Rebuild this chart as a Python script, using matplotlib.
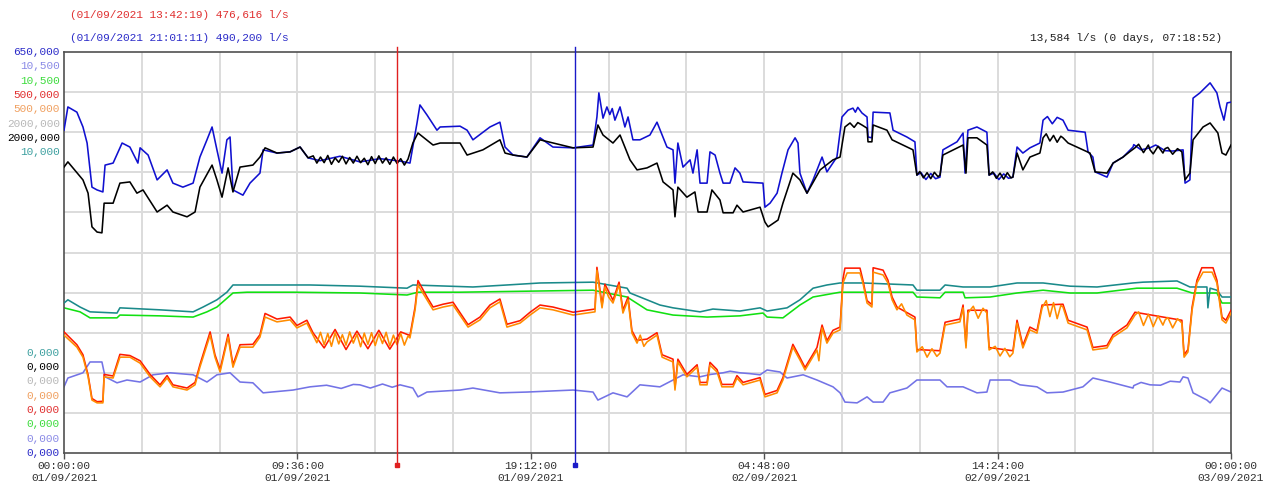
import matplotlib
matplotlib.use("Agg")
import matplotlib.pyplot as plt

# ---- data: time in hours from 01/09/2021 00:00, values in % of each channel's scale ----
blue_t = [0.0, 0.16, 0.53, 0.78, 0.95, 1.15, 1.36, 1.60, 1.69, 2.02, 2.39, 2.71, 3.04, 3.13, 3.46, 3.83,
          4.24, 4.48, 4.89, 5.31, 5.59, 5.88, 6.09, 6.29, 6.50, 6.70, 6.83, 6.95, 7.36, 7.65, 8.06, 8.19,
          8.76, 9.30, 9.71, 10.04, 10.53, 11.35, 12.17, 13.00, 13.82, 14.23, 14.52, 14.64, 14.93, 15.34,
          15.47, 16.29, 16.58, 16.82, 17.52, 17.93, 18.14, 18.47, 19.04, 19.58, 20.11, 20.94, 21.76, 21.92,
          22.00, 22.17, 22.33, 22.66, 22.87, 23.07, 23.20, 23.40, 23.69, 24.10, 24.39, 24.80, 25.05, 25.13,
          25.25, 25.46, 25.75, 25.87, 26.04, 26.16, 26.45, 26.57, 26.78, 26.98, 27.11, 27.39, 27.60, 27.80,
          27.93, 28.75, 28.83, 29.04, 29.33, 29.53, 29.78, 30.07, 30.19, 30.27, 30.56, 30.81, 31.18, 31.38,
          31.79, 32.00, 32.25, 32.45, 32.82, 33.03, 33.07, 33.23, 33.28, 33.97, 34.10, 34.67, 35.00, 35.08,
          36.03, 36.15, 36.73, 36.98, 37.06, 37.18, 37.55, 37.96, 38.05, 39.03, 39.20, 39.44, 39.73, 40.14,
          40.27, 41.09, 41.30, 42.00, 42.12, 42.32, 42.41, 42.90, 43.15, 43.56, 43.97, 44.67, 45.29, 46.03,
          46.11, 46.31, 46.40, 46.44, 46.72, 47.14, 47.42, 47.55, 47.71, 47.84, 48.0]
blue_v = [80.5, 86.3, 85.0, 81.3, 77.3, 66.3, 65.6, 65.1, 71.8, 72.3, 77.3, 76.3, 72.3, 76.1, 74.3, 68.1,
          70.6, 67.3, 66.3, 67.3, 73.8, 78.1, 81.3, 75.6, 69.8, 78.1, 78.8, 65.6, 64.3, 67.3, 69.8, 75.6,
          74.8, 75.1, 76.3, 73.6, 72.9, 74.0, 72.6, 73.4, 72.8, 72.3, 82.3, 86.8, 84.3, 80.5,
          81.3, 81.5, 80.5, 78.1, 81.3, 82.5, 76.3, 74.3, 73.8, 78.6, 76.3, 76.1, 76.8, 83.8,
          89.8, 83.5, 86.3, 83.0, 86.3, 81.3, 83.8, 78.1, 78.1, 79.3, 82.5, 76.3, 75.6, 67.3,
          77.3, 71.3, 73.1, 69.8, 75.6, 67.3, 67.3, 75.1, 74.3, 69.8, 67.3, 67.3, 71.1, 69.8,
          67.6, 67.3, 61.3, 62.3, 64.8, 69.8, 75.6, 78.6, 77.3, 69.8, 64.8, 68.1, 73.8, 70.1,
          73.8, 83.8, 85.5, 86.0, 84.8, 83.8, 78.8, 78.6, 85.0, 84.8, 80.5, 78.8, 77.6, 69.3,
          68.8, 75.6, 77.6, 79.8, 69.8, 80.5, 81.3, 80.0, 69.3, 68.8, 76.3, 74.8, 76.1, 77.3,
          83.0, 83.0, 80.5, 80.0, 75.1, 73.8, 70.1, 68.8, 72.3, 73.8, 76.3, 76.1, 75.4, 75.6,
          67.3, 68.1, 83.0, 88.5, 89.8, 92.3, 89.8, 86.3, 83.0, 87.3, 87.5]
# extra readings in the noisy stretches of the blue trace
blue_extra_t = [22.45, 22.55, 32.55, 32.65, 35.25, 35.45, 35.65, 35.85, 38.25, 38.45, 38.65, 38.85,
                40.45, 40.65, 40.85, 44.00, 44.30, 44.90, 45.60]
blue_extra_v = [84.4, 85.9, 85.0, 86.2, 69.9, 68.2, 69.7, 68.4, 69.8, 68.2, 69.6, 68.5,
                83.9, 82.1, 83.7, 76.9, 75.6, 76.8, 75.3]

black_t = [0.0, 0.16, 0.78, 0.99, 1.15, 1.36, 1.56, 1.65, 2.02, 2.30, 2.71, 3.00, 3.25, 3.83, 4.24, 4.48,
           5.06, 5.39, 5.59, 6.09, 6.29, 6.50, 6.75, 6.95, 7.24, 7.77, 8.06, 8.27, 8.76, 9.30, 9.71, 10.04,
           10.25, 10.40, 10.55, 10.70, 10.85, 11.00, 11.15, 11.30, 11.45, 11.60, 11.75, 11.90, 12.05, 12.20,
           12.35, 12.50, 12.65, 12.80, 12.95, 13.10, 13.25, 13.40, 13.55, 13.70, 13.85, 14.00, 14.15,
           14.35, 14.56, 15.18, 15.47, 16.29, 16.58, 17.23, 17.93, 18.14, 18.47, 19.04, 19.58, 20.94,
           21.76, 21.96, 22.17, 22.58, 22.87, 23.28, 23.57, 23.98, 24.39, 24.64, 25.05, 25.13, 25.25,
           25.62, 25.95, 26.08, 26.45, 26.65, 26.98, 27.11, 27.52, 27.68, 27.93, 28.63, 28.83, 28.96,
           29.37, 29.57, 29.98, 30.27, 30.56, 31.10, 31.63, 31.92, 32.12, 32.33, 32.82, 33.03, 33.07,
           33.23, 33.28, 33.85, 34.06, 34.92, 35.08, 36.03, 36.15, 36.98, 37.10, 37.18, 37.55, 37.96,
           38.05, 39.03, 39.20, 39.44, 39.73, 40.14, 40.27, 41.09, 41.30, 42.20, 42.41, 42.90, 43.15,
           43.56, 44.05, 44.67, 45.29, 45.98, 46.11, 46.31, 46.44, 46.85, 47.14, 47.46, 47.63, 47.79, 48.0]
black_v = [71.3, 72.6, 68.1, 64.8, 56.4, 55.1, 54.9, 62.3, 62.3, 67.3, 67.6, 64.8, 65.6, 60.1, 61.8, 60.1,
           58.9, 60.1, 66.3, 71.8, 68.1, 63.8, 71.1, 65.1, 71.3, 71.8, 73.8, 76.1, 74.8, 75.1, 76.3, 73.6,
           74.1, 72.3, 73.8, 72.4, 74.2, 72.0, 73.6, 72.5, 74.0, 72.1, 73.7, 72.3, 74.0, 72.4,
           73.5, 71.9, 73.9, 72.2, 74.1, 72.3, 73.6, 72.0, 73.8, 72.2, 73.4, 71.8, 73.3,
           77.3, 79.8, 76.8, 77.3, 77.3, 74.3, 75.6, 78.1, 74.8, 74.3, 73.8, 78.1, 76.1,
           76.3, 81.8, 79.3, 77.3, 79.3, 73.1, 70.6, 71.1, 72.3, 67.6, 65.6, 58.9, 66.3,
           63.8, 65.1, 60.1, 60.1, 65.6, 63.1, 59.9, 59.9, 61.8, 60.1, 61.3, 57.6, 56.4,
           58.1, 62.3, 69.8, 68.1, 64.8, 70.6, 73.1, 73.8, 81.3, 82.3, 81.8, 81.0, 77.6,
           77.6, 81.8, 80.5, 78.1, 75.6, 69.3, 69.3, 74.3, 76.8, 69.8, 78.6, 78.6, 76.8,
           69.3, 68.8, 74.8, 70.6, 73.8, 74.8, 78.6, 78.6, 77.3, 74.8, 70.1, 69.8, 72.3,
           73.8, 76.1, 75.6, 75.9, 75.1, 68.1, 69.8, 78.1, 81.3, 82.3, 79.8, 74.8, 74.3, 76.8]
# extra readings in the noisy stretches of the black trace
black_extra_t = [35.20, 35.35, 35.50, 35.65, 35.80, 35.95, 38.20, 38.35, 38.50, 38.65, 38.80, 38.95,
                 40.40, 40.55, 40.70, 40.85, 41.00, 44.20, 44.40, 44.60, 44.80, 45.00, 45.20, 45.40,
                 45.60, 45.80, 32.50, 32.65, 43.85]
black_extra_v = [70.2, 68.6, 69.9, 68.4, 70.0, 68.9, 70.1, 68.5, 69.8, 68.3, 69.9, 68.6,
                 79.6, 77.8, 79.2, 77.5, 79.0, 77.0, 74.9, 76.8, 74.6, 76.5, 74.8, 76.2,
                 74.5, 75.9, 81.2, 82.4, 75.2]

teal_t = [0.0, 0.16, 0.66, 1.07, 2.18, 2.30, 3.95, 5.31, 5.72, 6.29, 6.70, 6.95, 8.06, 10.12, 12.17, 14.11,
          14.35, 16.82, 18.22, 19.58, 21.76, 23.16, 23.28, 23.98, 24.51, 25.05, 26.16, 26.69, 27.80, 28.63,
          28.92, 29.74, 30.27, 30.81, 31.38, 31.92, 32.86, 34.92, 35.08, 36.03, 36.24, 36.98, 38.09, 39.20,
          40.27, 41.38, 42.49, 43.97, 44.38, 45.78, 46.31, 47.01, 47.05, 47.14, 47.42, 47.63, 48.0]
teal_v = [37.4, 38.2, 36.4, 35.2, 34.9, 36.2, 35.7, 35.2, 36.4, 38.2, 40.1, 41.9, 41.9, 41.9, 41.6, 41.1,
          41.9, 41.4, 41.9, 42.4, 42.6, 41.1, 39.9, 38.2, 36.9, 36.2, 35.2, 35.9, 35.4, 36.2,
          35.4, 36.2, 38.2, 41.1, 41.9, 42.4, 42.4, 41.9, 40.6, 40.6, 41.9, 41.4, 41.4, 42.4,
          42.4, 41.6, 41.4, 42.4, 42.6, 42.9, 41.4, 41.4, 36.2, 41.1, 40.6, 38.9, 38.9]

green_t = [0.0, 0.66, 1.07, 2.18, 2.30, 3.95, 5.31, 5.88, 6.29, 6.95, 7.53, 9.42, 12.17, 14.11, 14.56,
           16.29, 21.76, 23.16, 23.98, 25.05, 26.45, 27.80, 28.75, 28.92, 29.57, 30.27, 30.81, 31.92,
           34.92, 35.08, 36.03, 36.24, 36.98, 37.06, 38.09, 39.20, 40.27, 41.38, 42.49, 44.13, 45.78,
           46.40, 47.42, 47.63, 48.0]
green_v = [36.2, 35.2, 33.7, 33.7, 34.4, 34.2, 33.9, 35.2, 36.4, 39.9, 40.1, 40.1, 39.9, 39.4, 40.1,
           40.1, 40.6, 38.9, 35.7, 34.4, 33.9, 34.2, 34.9, 33.9, 33.7, 36.9, 38.9, 40.1,
           40.1, 38.9, 38.7, 40.1, 40.1, 38.7, 38.9, 39.9, 40.6, 39.9, 39.9, 41.1, 41.1,
           39.9, 39.9, 37.4, 37.4]

orange_t = [0.0, 0.53, 0.78, 0.99, 1.15, 1.36, 1.60, 1.65, 2.02, 2.30, 2.71, 3.13, 3.54, 3.95, 4.24, 4.48,
            5.06, 5.39, 5.59, 6.01, 6.21, 6.42, 6.75, 6.95, 7.24, 7.77, 8.06, 8.27, 8.76, 9.30, 9.58, 9.99,
            10.24, 10.40, 10.55, 10.70, 10.85, 11.00, 11.15, 11.30, 11.45, 11.60, 11.75, 11.90, 12.05,
            12.20, 12.35, 12.50, 12.65, 12.80, 12.95, 13.10, 13.25, 13.40, 13.55, 13.70, 13.85, 14.00,
            14.15, 14.23, 14.44, 14.56, 14.93, 15.18, 15.59, 16.00, 16.62, 17.11, 17.52, 17.93, 18.22,
            18.76, 19.17, 19.58, 20.11, 20.94, 21.51, 21.84, 21.92, 22.13, 22.25, 22.58, 22.83, 22.99,
            23.20, 23.36, 23.57, 23.98, 24.39, 24.60, 25.05, 25.13, 25.25, 25.62, 26.04, 26.16, 26.45,
            26.57, 26.86, 27.06, 27.52, 27.68, 27.93, 28.63, 28.83, 29.33, 29.57, 29.98, 30.27, 30.48,
            30.97, 31.18, 31.38, 31.63, 31.92, 32.04, 32.21, 32.74, 32.86, 33.03, 33.23, 33.28, 33.69,
            33.89, 34.06, 34.26, 34.67, 35.00, 35.08, 36.03, 36.24, 36.85, 36.98, 37.10, 37.18, 37.96,
            38.05, 39.03, 39.20, 39.44, 39.73, 40.02, 40.23, 41.09, 41.30, 42.08, 42.32, 42.90, 43.15,
            43.72, 44.05, 44.67, 45.29, 45.98, 46.07, 46.23, 46.40, 46.60, 46.85, 47.22, 47.42, 47.63,
            47.79, 48.0]
orange_v = [29.4, 26.4, 23.9, 19.0, 13.2, 12.5, 12.5, 19.0, 18.7, 23.9, 23.9, 22.4, 19.0, 16.5, 18.7, 16.5,
            15.7, 17.0, 21.4, 29.4, 23.9, 20.2, 28.9, 21.4, 26.4, 26.4, 28.9, 33.9, 32.7, 33.2, 31.2, 32.4,
            29.4, 27.5, 30.1, 27.0, 29.8, 26.6, 30.0, 27.2, 29.5, 26.9, 30.2, 27.4, 29.6,
            26.5, 29.9, 27.1, 30.0, 26.8, 29.7, 27.3, 30.1, 26.7, 29.4, 27.0, 29.8, 26.9,
            29.2, 28.7, 35.7, 41.9, 38.2, 35.7, 36.4, 36.9, 31.4, 33.2, 36.2, 37.7, 31.4,
            32.4, 34.4, 36.2, 35.7, 34.4, 34.9, 35.2, 45.6, 36.2, 41.4, 37.4, 41.9, 34.9,
            38.2, 29.9, 27.4, 27.7, 29.4, 23.9, 22.7, 15.7, 22.7, 19.0, 21.4, 17.0, 17.0,
            21.9, 20.2, 16.5, 16.5, 18.7, 17.0, 18.2, 14.0, 15.0, 18.2, 26.4, 23.2, 20.7,
            25.7, 31.2, 27.4, 29.9, 30.7, 42.4, 44.9, 44.9, 42.4, 37.4, 36.4, 45.1, 44.4,
            42.4, 38.2, 35.7, 34.4, 33.2, 25.2, 24.9, 31.9, 32.7, 36.2, 26.2, 34.9, 34.9,
            25.7, 24.9, 32.4, 26.2, 30.7, 29.9, 36.2, 36.4, 32.4, 30.7, 25.7, 26.2, 28.9,
            31.2, 34.4, 33.7, 33.2, 32.4, 23.9, 25.2, 35.7, 42.4, 45.1, 45.1, 42.4, 33.2,
            32.4, 34.9]
# extra readings in the noisy stretches of the orange trace
orange_extra_t = [35.30, 35.50, 35.70, 35.90, 37.40, 37.60, 37.80, 38.30, 38.50, 38.70, 38.90,
                  40.40, 40.55, 40.70, 40.85, 41.00, 44.20, 44.40, 44.60, 44.80, 45.00, 45.20, 45.40,
                  45.60, 45.80, 22.40, 23.70, 23.85, 34.45, 31.05]
orange_extra_v = [26.5, 23.9, 26.0, 24.1, 36.6, 33.6, 36.1, 26.6, 24.2, 26.1, 24.0,
                  38.0, 34.0, 37.5, 33.5, 36.8, 35.2, 31.8, 34.6, 31.5, 34.2, 31.9, 33.8,
                  31.2, 33.5, 38.9, 29.4, 26.6, 37.2, 23.0]

red_t = [0.0, 0.53, 0.78, 0.99, 1.15, 1.36, 1.60, 1.65, 2.02, 2.30, 2.71, 3.13, 3.54, 3.95, 4.24, 4.48,
         5.06, 5.39, 5.59, 6.01, 6.21, 6.42, 6.75, 6.95, 7.24, 7.77, 8.06, 8.27, 8.76, 9.30, 9.58, 9.99,
         10.24, 10.70, 11.15, 11.60, 12.05, 12.50, 12.95, 13.40, 13.85, 14.23, 14.44, 14.56, 14.93,
         15.18, 15.59, 16.00, 16.62, 17.11, 17.52, 17.93, 18.22, 18.76, 19.17, 19.58, 20.11, 20.94,
         21.51, 21.84, 21.92, 22.13, 22.25, 22.58, 22.83, 22.99, 23.20, 23.36, 23.57, 23.98, 24.39,
         24.60, 25.05, 25.13, 25.25, 25.62, 26.04, 26.16, 26.45, 26.57, 26.86, 27.06, 27.52, 27.68,
         27.93, 28.63, 28.83, 29.33, 29.57, 29.98, 30.27, 30.48, 30.97, 31.18, 31.38, 31.63, 31.92,
         32.04, 32.12, 32.74, 32.86, 33.03, 33.23, 33.28, 33.69, 33.89, 34.06, 34.26, 34.67, 35.00,
         35.08, 36.03, 36.24, 36.85, 36.98, 37.10, 37.18, 37.96, 38.05, 39.03, 39.20, 39.44, 39.73,
         40.02, 40.23, 41.09, 41.30, 42.08, 42.32, 42.90, 43.15, 43.72, 44.05, 45.98, 46.07, 46.23,
         46.40, 46.60, 46.80, 47.26, 47.42, 47.63, 47.79, 48.0]
red_v = [30.2, 27.0, 24.5, 19.5, 13.6, 12.8, 12.9, 19.6, 19.2, 24.6, 24.3, 23.0, 19.6, 17.0, 19.3, 17.0,
         16.2, 17.6, 22.0, 30.2, 24.5, 20.8, 29.6, 22.0, 27.0, 27.1, 29.5, 34.8, 33.4, 33.9, 31.8, 33.1,
         30.0, 26.2, 30.8, 25.8, 30.4, 26.0, 30.6, 25.9, 30.2, 29.3, 36.4, 43.0, 38.9,
         36.4, 37.1, 37.6, 32.0, 33.9, 36.9, 38.4, 32.1, 33.0, 35.1, 36.9, 36.4, 35.1,
         35.6, 35.9, 46.3, 36.9, 42.1, 38.1, 42.6, 35.6, 38.9, 30.5, 28.1, 28.4, 30.0,
         24.5, 23.4, 16.3, 23.4, 19.6, 22.0, 17.6, 17.6, 22.6, 20.8, 17.1, 17.1, 19.3,
         17.6, 18.8, 14.6, 15.6, 18.8, 27.1, 23.8, 21.3, 26.3, 31.9, 28.0, 30.6, 31.4,
         43.4, 46.1, 46.1, 43.1, 38.0, 37.0, 46.2, 45.6, 43.1, 38.9, 36.4, 35.0, 33.9,
         25.8, 25.5, 32.6, 33.4, 36.9, 26.8, 35.6, 35.6, 26.3, 25.5, 33.1, 26.8, 31.4,
         30.5, 36.9, 37.1, 33.1, 31.4, 26.3, 26.8, 29.5, 31.9, 35.1, 33.1, 24.5, 25.8,
         36.4, 43.1, 46.2, 46.2, 43.1, 33.9, 33.1, 35.6]

purple_t = [0.0, 0.16, 0.78, 1.07, 1.56, 1.69, 2.18, 2.59, 3.13, 3.66, 4.36, 5.31, 5.88, 6.29, 6.83, 7.24,
            7.77, 8.19, 9.42, 10.12, 12.17, 13.82, 14.35, 14.56, 14.93, 16.29, 16.82, 17.93, 19.04, 20.94,
            21.76, 21.96, 22.58, 23.16, 23.69, 24.51, 25.05, 25.46, 26.16, 27.11, 27.80, 28.63, 28.92,
            29.45, 29.74, 30.40, 30.97, 31.63, 31.92, 32.12, 32.62, 33.03, 33.28, 33.69, 33.97, 34.67,
            35.08, 36.03, 36.32, 36.98, 37.55, 37.96, 38.09, 38.91, 39.32, 40.02, 40.43, 41.09, 41.91,
            42.32, 43.02, 43.97, 44.67, 45.90, 46.03, 46.23, 46.44, 47.01, 47.14, 47.63, 48.0]
purple_v = [16.5, 18.7, 20.0, 22.7, 22.7, 19.0, 17.5, 18.2, 17.7, 19.5, 20.0, 19.5, 17.7, 19.5, 20.0, 17.7,
            17.5, 15.0, 15.7, 16.5, 17.0, 17.0, 16.2, 14.0, 15.2, 15.7, 16.2, 15.0, 15.2, 15.7,
            15.2, 13.2, 15.0, 14.0, 17.0, 16.5, 18.2, 19.5, 19.0, 20.0, 20.0, 19.5, 20.7,
            20.2, 18.7, 19.5, 18.2, 16.5, 15.0, 12.7, 12.5, 14.0, 12.7, 12.7, 15.0, 16.2,
            18.2, 18.2, 16.5, 16.5, 15.0, 15.2, 18.2, 18.2, 17.0, 16.5, 15.0, 15.2, 16.5,
            18.7, 17.7, 16.2, 17.0, 17.7, 19.0, 18.7, 15.0, 13.2, 12.5, 16.2, 15.2]
# extra readings in the noisy stretches of the purple trace
purple_extra_t = [10.8, 11.4, 11.9, 12.6, 13.1, 13.5, 26.6, 27.4, 28.2, 44.0, 44.3, 45.1, 45.5]
purple_extra_v = [16.9, 16.1, 17.1, 16.2, 17.2, 16.4, 19.6, 20.4, 19.8, 16.8, 17.6, 16.9, 17.9]

# axis scale labels (top = full scale, bottom = zero), text and colour per channel
top_labels = ["650,000", "10,500", "10,500", "500,000", "500,000", "2000,000", "2000,000", "10,000"]
top_colors = ["#2b2bc8", "#8a8ae6", "#3ddc3d", "#e03030", "#f0a060", "#b8b8b8", "#000000", "#3ea0a0"]
bottom_labels = ["0,000"] * 8
bottom_colors = ["#3ea0a0", "#000000", "#b8b8b8", "#f0a060", "#e03030", "#3ddc3d", "#8a8ae6", "#2b2bc8"]

x_ticks = [0, 9.6, 19.2, 28.8, 38.4, 48]
x_tick_labels = ["00:00:00\n01/09/2021", "09:36:00\n01/09/2021", "19:12:00\n01/09/2021",
                 "04:48:00\n02/09/2021", "14:24:00\n02/09/2021", "00:00:00\n03/09/2021"]

cursor1_h = 13 + 42 / 60 + 19 / 3600
cursor2_h = 21 + 1 / 60 + 11 / 3600
cursor1_text = "(01/09/2021 13:42:19) 476,616 l/s"
cursor2_text = "(01/09/2021 21:01:11) 490,200 l/s"
diff_text = "13,584 l/s (0 days, 07:18:52)"


def merged(t, v, et, ev):
    pairs = sorted(zip(list(t) + list(et), list(v) + list(ev)))
    return [p[0] for p in pairs], [p[1] for p in pairs]


# ---- figure ----
MONO = ["Liberation Mono", "DejaVu Sans Mono"]
fig = plt.figure(figsize=(12.74, 4.84), dpi=100)
ax = fig.add_axes([64 / 1274, 31 / 484, 1167 / 1274, 401 / 484])

ax.set_xlim(0, 48)
ax.set_ylim(0, 100)

# grid
for gx in [3.2 * i for i in range(1, 15)]:
    ax.axvline(gx, color="#dcdcdc", lw=1.4, zorder=0)
for gy in range(10, 100, 10):
    ax.axhline(gy, color="#dcdcdc", lw=1.4, zorder=0)

lw = 1.15
pt, pv = merged(purple_t, purple_v, purple_extra_t, purple_extra_v)
ax.plot(pt, pv, color="#7373e6", lw=lw, zorder=2)
ax.plot(green_t, green_v, color="#11e011", lw=lw, zorder=2)
ax.plot(teal_t, teal_v, color="#1a8a8a", lw=lw, zorder=3)
ax.plot(red_t, red_v, color="#ff1a00", lw=lw, zorder=3)
ot, ov = merged(orange_t, orange_v, orange_extra_t, orange_extra_v)
ax.plot(ot, ov, color="#ff8c00", lw=lw, zorder=4)
bt, bv = merged(blue_t, blue_v, blue_extra_t, blue_extra_v)
ax.plot(bt, bv, color="#1010d0", lw=lw, zorder=3)
kt, kv = merged(black_t, black_v, black_extra_t, black_extra_v)
ax.plot(kt, kv, color="#000000", lw=lw, zorder=4)

# cursors
for ch, col in [(cursor1_h, "#e02020"), (cursor2_h, "#1a1ac8")]:
    ax.axvline(ch, ymin=-12 / 401, ymax=1 + 5 / 401, color=col, lw=1.0, clip_on=False, zorder=6)
    ax.plot([ch], [-12 / 401 * 100], marker="s", ms=2.5, color=col, clip_on=False, zorder=6)

# spines
for s in ax.spines.values():
    s.set_color("#505050")
    s.set_linewidth(1.2)

ax.set_yticks([])
ax.set_xticks(x_ticks)
ax.set_xticklabels(x_tick_labels, family=MONO, fontsize=8, color="#303030", linespacing=1.15)
ax.tick_params(axis="x", length=4, width=1, color="#505050", pad=2)

# scale labels
step = 14.3 * 72 / 100
for i, (t, c) in enumerate(zip(top_labels, top_colors)):
    ax.annotate(t, xy=(0, 1), xycoords="axes fraction", xytext=(-3, -i * step),
                textcoords="offset points", ha="right", va="center", family=MONO,
                fontsize=8, color=c)
for i, (t, c) in enumerate(zip(bottom_labels[::-1], bottom_colors[::-1])):
    ax.annotate(t, xy=(0, 0), xycoords="axes fraction", xytext=(-3, i * step),
                textcoords="offset points", ha="right", va="center", family=MONO,
                fontsize=8, color=c)

fig.text(70 / 1274, 1 - 15 / 484, cursor1_text, color="#e03030", family=MONO, fontsize=8,
         ha="left", va="center")
fig.text(70 / 1274, 1 - 38 / 484, cursor2_text, color="#2b2bc8", family=MONO, fontsize=8,
         ha="left", va="center")
fig.text(1222 / 1274, 1 - 38 / 484, diff_text, color="#202020", family=MONO, fontsize=8,
         ha="right", va="center")

fig.savefig("out.png", dpi=100, facecolor="white")
